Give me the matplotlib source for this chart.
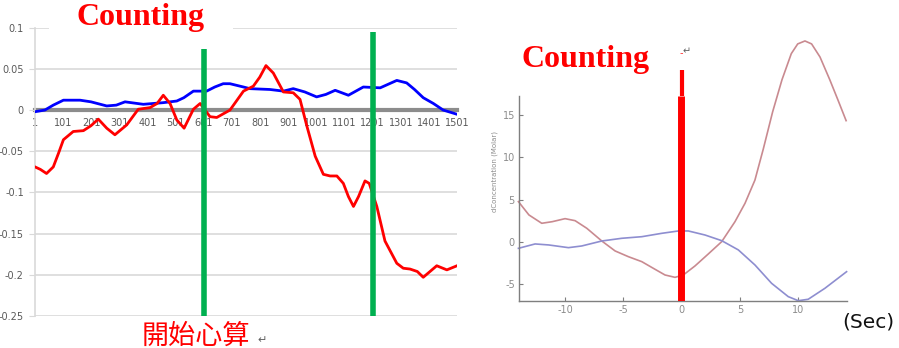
import matplotlib
matplotlib.use("Agg")
import matplotlib.pyplot as plt
from matplotlib.patches import Rectangle

plt.rcParams["axes.unicode_minus"] = False

# ---------------------------------------------------------------- data ---- #
# left panel (sample index vs. signal)
left_xticks = [1, 101, 201, 301, 401, 501, 601, 701, 801, 901, 1001, 1101, 1201, 1301, 1401, 1501]
left_yticks = [0.1, 0.05, 0, -0.05, -0.1, -0.15, -0.2, -0.25]
left_ylabels = ["0.1", "0.05", "0", "-0.05", "-0.1", "-0.15", "-0.2", "-0.25"]

blue_x = [1, 36, 66, 102, 161, 200, 256, 290, 321, 386, 457, 505, 530, 564, 611, 640, 670,
          694, 742, 765, 836, 884, 919, 960, 1002, 1035, 1068, 1115, 1168, 1228, 1287, 1322,
          1350, 1381, 1417, 1452, 1500]
blue_y = [-0.002, 0.000, 0.006, 0.012, 0.012, 0.010, 0.005, 0.006, 0.010, 0.007, 0.009, 0.011,
          0.015, 0.023, 0.023, 0.028, 0.032, 0.032, 0.028, 0.026, 0.025, 0.023, 0.026, 0.022,
          0.016, 0.019, 0.024, 0.018, 0.028, 0.027, 0.036, 0.033, 0.025, 0.015, 0.008, 0.000,
          -0.005]

red_x = [1, 20, 42, 66, 85, 102, 137, 173, 200, 226, 256, 285, 327, 368, 410, 435, 457, 481,
         505, 531, 564, 588, 623, 647, 694, 742, 777, 800, 822, 848, 884, 919, 943, 967, 997,
         1026, 1050, 1074, 1097, 1115, 1133, 1151, 1174, 1189, 1216, 1245, 1287, 1310, 1334,
         1360, 1381, 1405, 1429, 1465, 1501]
red_y = [-0.069, -0.072, -0.077, -0.069, -0.052, -0.036, -0.026, -0.025, -0.019, -0.011,
         -0.022, -0.030, -0.018, 0.001, 0.003, 0.008, 0.018, 0.008, -0.012, -0.022, 0.001,
         0.008, -0.008, -0.009, 0.000, 0.023, 0.029, 0.040, 0.054, 0.045, 0.022, 0.021, 0.013,
         -0.019, -0.056, -0.078, -0.080, -0.080, -0.089, -0.105, -0.117, -0.105, -0.086,
         -0.089, -0.117, -0.159, -0.186, -0.192, -0.193, -0.196, -0.203, -0.196, -0.189,
         -0.194, -0.189]

# marker lines (sample index, top value)
green_x = [602, 1201]
green_top = [0.074, 0.095]

# right panel (seconds vs. dConcentration)
right_xticks = [-10, -5, 0, 5, 10]
right_yticks = [-5, 0, 5, 10, 15]

pink_t = [-14.0, -13.1, -12.0, -11.1, -10.0, -9.14, -8.14, -6.85, -5.71, -4.57, -3.42, -2.28,
          -1.43, -0.57, 0.14, 1.14, 2.28, 3.43, 4.57, 5.43, 6.28, 7.0, 7.8, 8.6, 9.4, 9.95,
          10.57, 11.14, 11.86, 12.7, 13.4, 14.1]
pink_v = [4.75, 3.17, 2.18, 2.37, 2.73, 2.49, 1.59, 0.08, -1.1, -1.78, -2.37, -3.28, -3.95,
          -4.23, -3.95, -2.88, -1.46, 0.0, 2.37, 4.55, 7.3, 11.0, 15.4, 19.2, 22.3, 23.45, 23.8,
          23.45, 21.9, 19.2, 16.8, 14.35]

purple_t = [-14.0, -12.57, -11.4, -9.71, -8.57, -6.85, -5.14, -3.42, -1.71, -0.28, 0.57, 2.0,
            3.43, 4.86, 6.28, 7.71, 9.14, 10.0, 10.85, 12.28, 14.14]
purple_v = [-0.79, -0.27, -0.39, -0.71, -0.51, 0.08, 0.40, 0.59, 0.99, 1.27, 1.27, 0.79, 0.12,
            -0.98, -2.76, -4.94, -6.52, -7.0, -6.83, -5.53, -3.56]

counting_t = -0.1

# ---------------------------------------------------------------- plot ---- #
W, H = 899, 348
fig = plt.figure(figsize=(W / 100, H / 100), dpi=100)
fig.patch.set_facecolor("white")

# ---- left panel
ax = fig.add_axes([35 / W, 1 - 316 / H, 422 / W, 288.3 / H])
ax.set_xlim(1, 1501)
ax.set_ylim(-0.25, 0.1)
for v in left_yticks:
    if v != 0:
        ax.axhline(v, color="#d9d9d9", lw=1.2, zorder=0)
for s in ["top", "right"]:
    ax.spines[s].set_visible(False)
ax.spines["left"].set_color("#d9d9d9")
ax.spines["left"].set_linewidth(1.2)
ax.spines["bottom"].set_position(("data", 0))
ax.spines["bottom"].set_color("#8c8c8c")
ax.spines["bottom"].set_linewidth(3)
ax.spines["bottom"].set_zorder(1)
ax.set_xticks(left_xticks)
ax.set_xticklabels([str(v) for v in left_xticks])
ax.set_yticks(left_yticks)
ax.set_yticklabels(left_ylabels)
ax.tick_params(axis="x", length=0, pad=6, labelsize=7, labelcolor="#595959")
ax.tick_params(axis="y", length=4, color="#d9d9d9", pad=4, labelsize=7, labelcolor="#595959")

ax.plot(blue_x, blue_y, color="#0000ff", lw=2.0, zorder=3)
ax.plot(red_x, red_y, color="#ff0000", lw=2.0, zorder=3)
ax.vlines(green_x, -0.25, green_top, color="#00b050", lw=4, zorder=4)

# white box behind the title, cutting the top grid line
fig.add_artist(Rectangle((49 / W, 1 - 49 / H), 184 / W, 49 / H, facecolor="white",
                         edgecolor="none", transform=fig.transFigure, zorder=5))
fig.text(141 / W, 1 - 17 / H, "Counting", color="#ff0000", fontsize=23, fontweight="bold",
         family="Liberation Serif", ha="center", va="center", zorder=6)
fig.text(142 / W, 1 - 336 / H, "開始心算", color="#ff0000", fontsize=19.5,
         family=["Noto Sans CJK TC", "DejaVu Sans"], ha="left", va="center")
fig.text(257 / W, 1 - 340 / H, "↵", color="#606060", fontsize=8, family="DejaVu Sans",
         ha="left", va="center")

# ---- right panel
bx = fig.add_axes([519 / W, 1 - 300.7 / H, 327.7 / W, 270.7 / H])
bx.set_xlim(-13.95, 14.15)
bx.set_ylim(-7, 25.1)
for s in ["top", "right"]:
    bx.spines[s].set_visible(False)
for s in ["left", "bottom"]:
    bx.spines[s].set_color("#7f7f7f")
    bx.spines[s].set_linewidth(1.0)
bx.spines["left"].set_bounds(-7, 17.3)
bx.set_xticks(right_xticks)
bx.set_yticks(right_yticks)
bx.tick_params(direction="in", length=3, color="#7f7f7f", labelsize=7, labelcolor="#8c8c8c",
               pad=3)
bx.plot(pink_t, pink_v, color="#c98a90", lw=1.2, clip_on=False)
bx.plot(purple_t, purple_v, color="#8e8ed0", lw=1.2, clip_on=False)
bx.vlines(counting_t, -7, 17.3, color="#ff0000", lw=5, zorder=4)
bx.vlines(counting_t + 0.1, 17.3, 20.4, color="#ff0000", lw=3, zorder=4)

fig.text(495 / W, 1 - 172 / H, "dConcentration (Molar)", rotation=90, color="#8c8c8c",
         fontsize=5, ha="center", va="center")
fig.text(586 / W, 1 - 60 / H, "Counting", color="#ff0000", fontsize=23, fontweight="bold",
         family="Liberation Serif", ha="center", va="center")
fig.text(681 / W, 1 - 53 / H, "-", color="#ff3030", fontsize=7, ha="center", va="center")
fig.text(687 / W, 1 - 51 / H, "↵", color="#606060", fontsize=7, ha="center", va="center")
fig.text(842 / W, 1 - 322 / H, "(Sec)", color="#111111", fontsize=14.5, ha="left",
         va="center")

fig.savefig("out.png", dpi=100)
